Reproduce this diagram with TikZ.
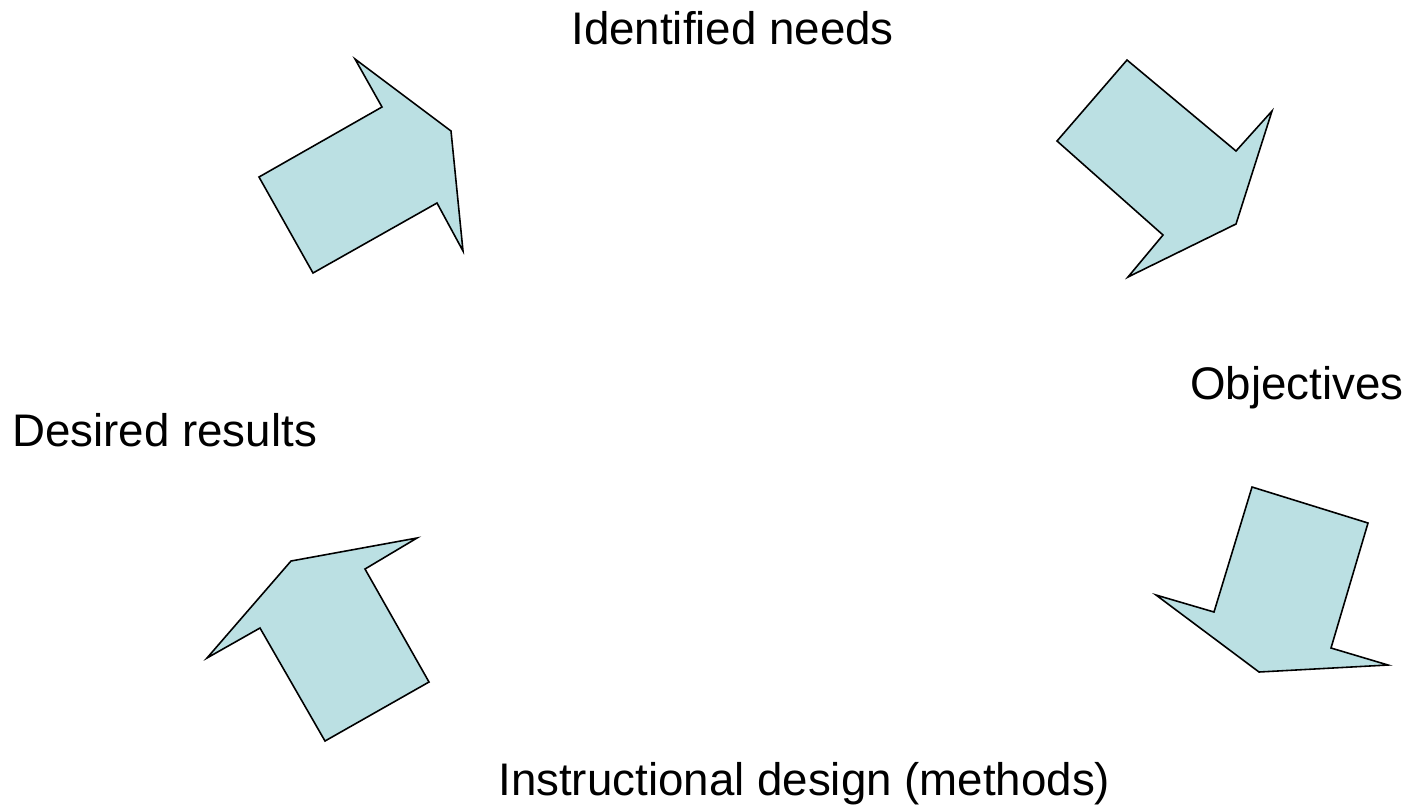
\documentclass[tikz,border=0pt]{standalone}
\usepackage{fontspec}
\setmainfont{Liberation Sans}
\usepackage{tikz}
\definecolor{PowderBlue}{RGB}{187, 224, 227}

\begin{document}
\begin{tikzpicture}[
  x=0.02cm, y=-0.02cm,
  blk/.style = {fill=PowderBlue, draw=black, line width=0.9pt,
                line join=miter},
  lbl/.style = {anchor=base west, inner sep=0pt,
                font=\fontsize{26}{31}\selectfont},
]

\useasboundingbox (0,0) rectangle (1419,806);

% cycle labels
\node[lbl] (needs)  at (571, 44)  {Identified needs};
\node[lbl] (obj)    at (1190, 399) {Objectives};
\node[lbl] (design) at (498, 795) {Instructional design (methods)};
\node[lbl] (result) at (12, 446)  {Desired results};

% block arrows between the stages
\draw[blk] (259,177) -- (382,107) -- (355,59) -- (451,131)
  -- (463,251) -- (437,203) -- (313,273) -- cycle;

\draw[blk] (1057,141) -- (1127,60) -- (1236,151) -- (1272,111)
  -- (1236,224) -- (1128,277) -- (1163,235) -- cycle;

\draw[blk] (1252,487) -- (1368,523) -- (1331,648) -- (1388,665)
  -- (1259,672) -- (1156,595) -- (1214,612) -- cycle;

\draw[blk] (291,561) -- (417,538) -- (365,569) -- (429,682)
  -- (325,741) -- (260,628) -- (207,658) -- cycle;

\end{tikzpicture}
\end{document}
